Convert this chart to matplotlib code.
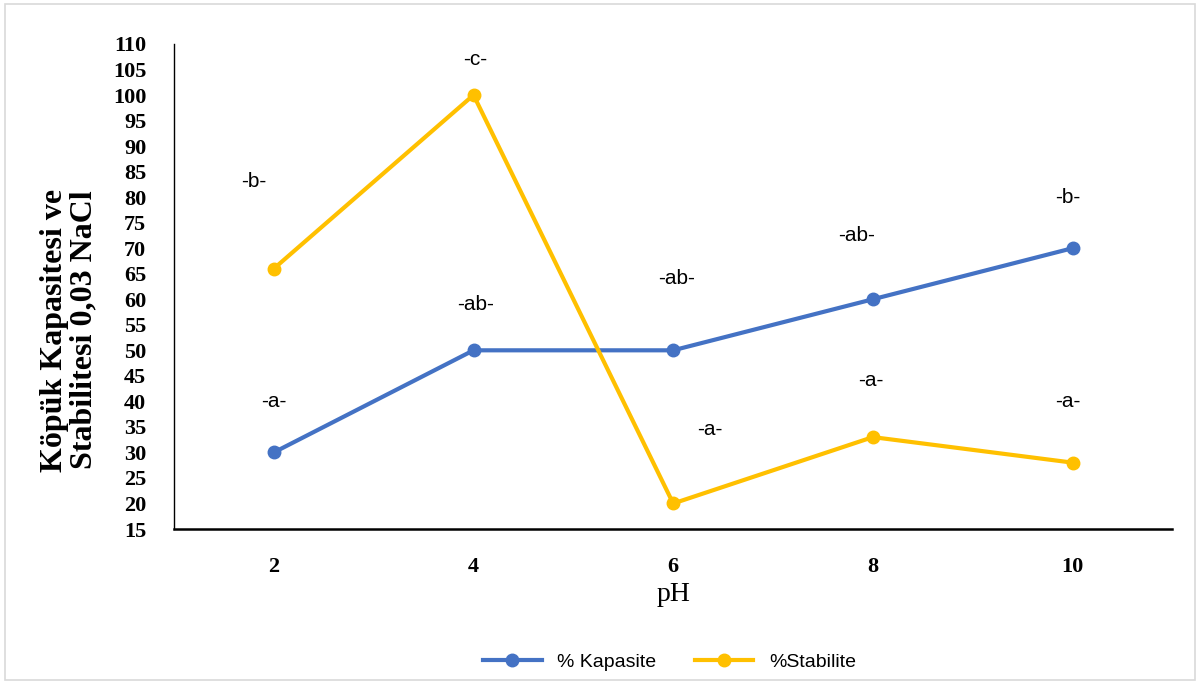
import matplotlib
matplotlib.use("Agg")
import matplotlib.pyplot as plt
from matplotlib.patches import Rectangle

ph = ["2", "4", "6", "8", "10"]
kapasite = [30, 50, 50, 60, 70]
stabilite = [66, 100, 20, 33, 28]

# harf etiketleri: (x konumu, y konumu, metin)
etiket_x = [-0.1, 1.01, 0.0, 1.01, 2.015, 2.185, 2.92, 2.99, 3.975, 3.975]
etiket_y = [83, 107, 40, 59, 64, 34.5, 72.5, 44, 80, 40]
etiket = ["-b-", "-c-", "-a-", "-ab-", "-ab-", "-a-", "-ab-", "-a-", "-b-", "-a-"]

fig = plt.figure(figsize=(12, 6.84), dpi=100)
ax = fig.add_axes([0.145, 0.2266, 0.832, 0.7091])

x = range(len(ph))
ax.plot(x, kapasite, color="#4472C4", lw=3, marker="o", ms=9, label="% Kapasite")
ax.plot(x, stabilite, color="#FFC000", lw=3, marker="o", ms=9, label="%Stabilite")

for xx, yy, t in zip(etiket_x, etiket_y, etiket):
    ax.text(xx, yy, t, ha="center", va="center", fontsize=15, family="Liberation Sans")

ax.set_xlim(-0.5, 4.5)
ax.set_ylim(15, 110)
ax.set_yticks(range(15, 111, 5))
ax.set_xticks(list(x))
ax.set_xticklabels(ph)
for lab in ax.get_xticklabels() + ax.get_yticklabels():
    lab.set_family("Liberation Serif")
    lab.set_fontweight("bold")
    lab.set_fontsize(16)
ax.tick_params(axis="x", length=0, pad=20)
ax.tick_params(axis="y", length=0, pad=20)

ax.spines["top"].set_visible(False)
ax.spines["right"].set_visible(False)
ax.spines["left"].set_linewidth(1)
ax.spines["bottom"].set_linewidth(1.8)

ax.set_xlabel("pH", family="Liberation Serif", fontsize=20, labelpad=4)
ax.set_ylabel("Köpük Kapasitesi ve\nStabilitesi 0,03 NaCl", family="Liberation Serif",
              fontweight="bold", fontsize=23, linespacing=1.0)
ax.yaxis.set_label_coords(-0.076, 0.41)

fig.legend(loc="center", bbox_to_anchor=(0.558, 0.032), ncol=2, frameon=False,
           prop={"family": "Liberation Sans", "size": 14}, handlelength=3, columnspacing=2)

fig.patches.append(Rectangle((0.004, 0.006), 0.992, 0.988, transform=fig.transFigure,
                             fill=False, edgecolor="#d9d9d9", lw=1.2))

fig.savefig("out.png", dpi=100)
